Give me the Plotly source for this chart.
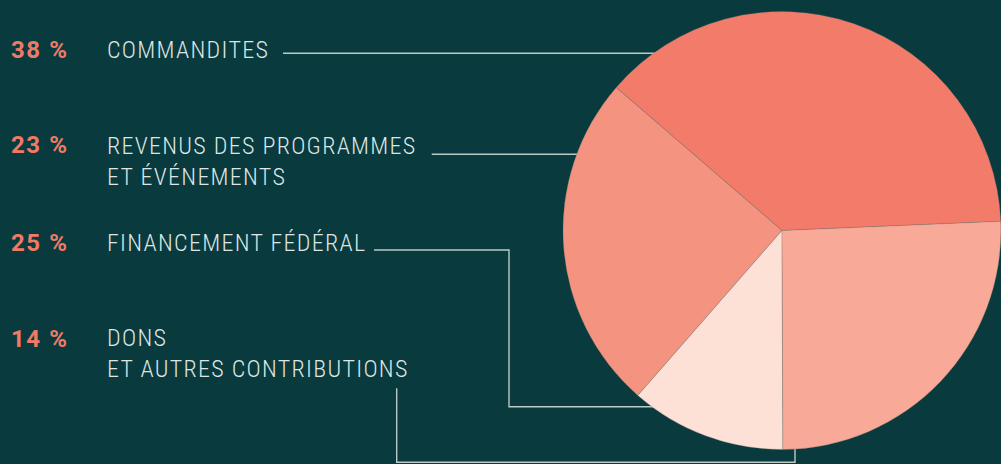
import plotly.graph_objects as go

# Data
categories = ["COMMANDITES", "REVENUS DES PROGRAMMES<br>ET ÉVÉNEMENTS", "DONS<br>ET AUTRES CONTRIBUTIONS", "FINANCEMENT FÉDÉRAL"]
slice_values = [38, 24.9, 11.5, 25.6]
pct_labels = ["38 %", "23 %", "14 %", "25 %"]
slice_colors = ["#f27b69", "#f4937f", "#fde1d7", "#f8a997"]

BG = "#093a3d"
W, H = 1001, 464
FONT = "Roboto Condensed, Roboto, sans-serif"
PFONT = "Roboto, sans-serif"
TXT = "#dde6e4"
PCT = "#f07a66"
LINE = "#b9cac7"

fig = go.Figure()
fig.add_trace(go.Pie(
    values=slice_values,
    labels=[c.replace("<br>", " ") for c in categories],
    marker=dict(colors=slice_colors, line=dict(color="rgba(110,110,110,0.55)", width=0.5)),
    sort=False,
    direction="counterclockwise",
    rotation=-49.2,
    textinfo="none",
    hoverinfo="label+percent",
    showlegend=False,
    domain=dict(x=[0.5624, 1.0], y=[0.03125, 0.97522]),
))

def px(x):
    return x / W

def py(y):
    return 1 - y / H

rows = [
    (0, 0, 50, 50),
    (1, 1, 161.2, 145.3),
    (3, 3, 243.3, 243.3),
    (2, 2, 353.9, 338.7),
]
for pi, ci, yblock, ypct in rows:
    fig.add_annotation(
        x=px(9), y=py(ypct), xref="paper", yref="paper",
        xanchor="left", yanchor="middle", showarrow=False,
        text='<span style="letter-spacing:1.6px">' + pct_labels[pi] + '</span>',
        font=dict(family=PFONT, size=24, color=PCT, weight=700),
    )
    fig.add_annotation(
        x=px(105), y=py(yblock), xref="paper", yref="paper",
        xanchor="left", yanchor="middle", showarrow=False, align="left",
        text='<span style="letter-spacing:1.3px">' + categories[ci] + '</span>',
        font=dict(family=FONT, size=24, color=TXT, weight=300),
    )

# leader lines, drawn below the pie
paths = [
    [(283, 53.3), (700, 53.3)],
    [(431.7, 154.3), (620, 154.3)],
    [(374, 250), (509, 250), (509, 406.7), (700, 406.7)],
    [(396.7, 388.3), (396.7, 462.3), (795, 462.3), (795, 420)],
]
for pts in paths:
    d = "M " + " L ".join(f"{px(x):.5f},{py(y):.5f}" for x, y in pts)
    fig.add_shape(type="path", path=d, xref="paper", yref="paper",
                  line=dict(color=LINE, width=1.4), layer="below")

fig.update_layout(
    width=W, height=H,
    margin=dict(l=0, r=0, t=0, b=0),
    paper_bgcolor=BG, plot_bgcolor=BG,
    xaxis=dict(visible=False), yaxis=dict(visible=False),
)
fig.write_html("out.html", config={"displayModeBar": False},
               post_script="document.body.style.margin='0';document.body.style.overflow='hidden';")
